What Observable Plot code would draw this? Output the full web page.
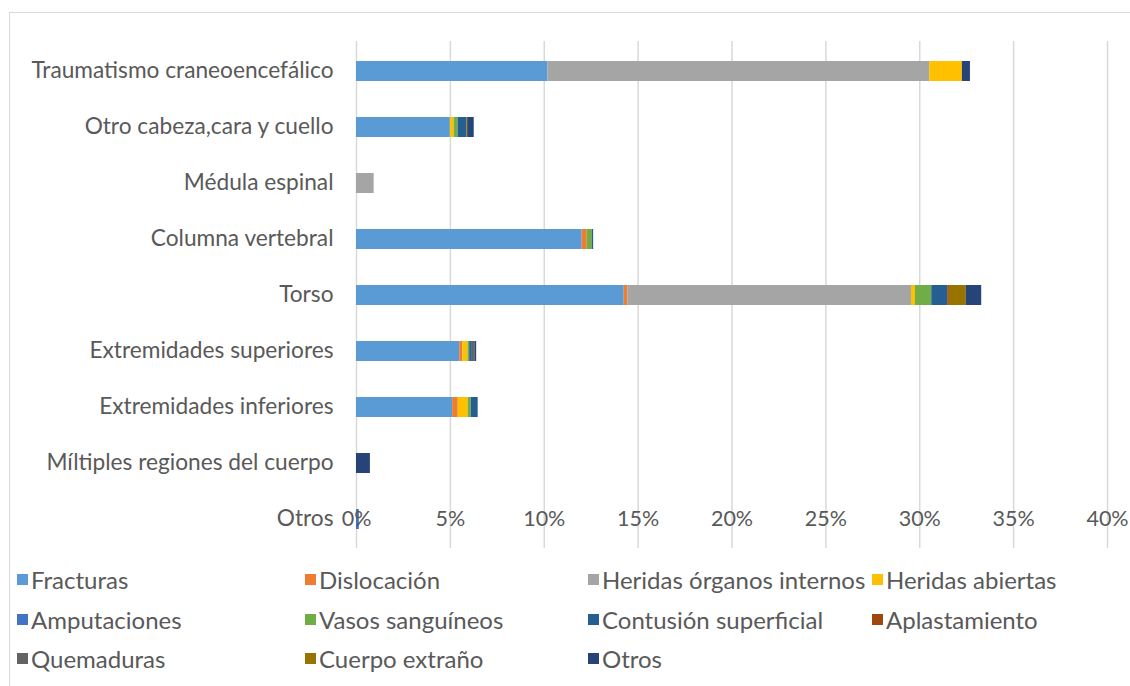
<!DOCTYPE html>
<html>
<head>
<meta charset="utf-8">
<script src="https://cdn.jsdelivr.net/npm/d3@7"></script>
<script src="https://cdn.jsdelivr.net/npm/@observablehq/plot@0.6"></script>
<style>
  html, body { margin: 0; padding: 0; background: #fff; overflow: hidden; }
  body { width: 1130px; height: 686px; position: relative; font-family: Lato, "Open Sans", sans-serif; }
  #frame { position: absolute; left: 9px; top: 12px; width: 1200px; height: 800px; border: 1.5px solid #d9d9d9; box-sizing: border-box; }
  #chart { position: absolute; left: 0; top: 0; }
  #legend { position: absolute; left: 17px; top: 560px; display: grid; grid-template-columns: 288px 283px 284px 250px; grid-auto-rows: 39.5px; }
  .item { display: flex; align-items: center; font-size: 24px; color: #595959; white-space: nowrap; }
  .sw { width: 11px; height: 11px; margin-right: 3px; flex: none; }
</style>
</head>
<body>
<div id="frame"></div>
<div id="chart"></div>
<div id="legend"></div>
<script>
const categories = [
  "Traumatismo craneoencefálico",
  "Otro cabeza,cara y cuello",
  "Médula espinal",
  "Columna vertebral",
  "Torso",
  "Extremidades superiores",
  "Extremidades inferiores",
  "Míltiples regiones del cuerpo",
  "Otros"
];
const seriesNames = [
  "Fracturas", "Dislocación", "Heridas órganos internos", "Heridas abiertas",
  "Amputaciones", "Vasos sanguíneos", "Contusión superficial", "Aplastamiento",
  "Quemaduras", "Cuerpo extraño", "Otros"
];
const seriesColors = [
  "#5B9BD5", "#ED7D31", "#A5A5A5", "#FFC000",
  "#4472C4", "#70AD47", "#255E91", "#9E480E",
  "#636363", "#997300", "#264478"
];
// values in percent, one per category (top to bottom)
const fracturas      = [10.2, 5.0, 0, 12.02, 14.26, 5.5, 5.12, 0, 0];
const dislocacion    = [0, 0, 0, 0.27, 0.2, 0.16, 0.3, 0, 0];
const heridasOrganos = [20.33, 0, 0.94, 0, 15.1, 0, 0, 0, 0];
const heridasAbiertas= [1.74, 0.2, 0, 0, 0.21, 0.28, 0.53, 0, 0];
const amputaciones   = [0, 0, 0, 0, 0, 0, 0, 0, 0.15];
const vasos          = [0, 0.21, 0, 0.27, 0.87, 0.09, 0.16, 0, 0];
const contusion      = [0, 0.46, 0, 0.07, 0.85, 0.14, 0.37, 0, 0];
const aplastamiento  = [0, 0, 0, 0, 0.09, 0, 0, 0, 0];
const quemaduras     = [0, 0, 0, 0, 0, 0.16, 0, 0, 0];
const cuerpoExtrano  = [0, 0.05, 0, 0, 0.9, 0, 0, 0, 0];
const otros          = [0.43, 0.35, 0, 0, 0.82, 0.07, 0, 0.74, 0];
const xTicks = [0, 5, 10, 15, 20, 25, 30, 35, 40];

const seriesValues = [fracturas, dislocacion, heridasOrganos, heridasAbiertas, amputaciones,
  vasos, contusion, aplastamiento, quemaduras, cuerpoExtrano, otros];

const table = [];
seriesNames.forEach((s, si) => {
  categories.forEach((c, ci) => {
    table.push({category: c, series: s, value: seriesValues[si][ci]});
  });
});

const chart = Plot.plot({
  width: 1130,
  height: 560,
  marginTop: 41,
  marginBottom: 12,
  marginLeft: 356,
  marginRight: 23,
  style: {fontFamily: "Lato, 'Open Sans', sans-serif", background: "transparent"},
  x: {domain: [0, 40], axis: null},
  y: {domain: categories, paddingInner: 0.645, paddingOuter: 0.3225, axis: null},
  color: {domain: seriesNames, range: seriesColors},
  marks: [
    Plot.gridX(xTicks, {stroke: "#d9d9d9", strokeOpacity: 1, strokeWidth: 1.5}),
    Plot.barX(table, Plot.stackX({x: "value", y: "category", fill: "series", order: null})),
    Plot.axisY({anchor: "left", tickSize: 0, tickPadding: 23, fontSize: 22.7, fill: "#595959", label: null, dy: -1}),
    Plot.text(xTicks, {x: d => d, y: () => "Otros", text: d => d + "%", fontSize: 21.5, fill: "#595959"})
  ]
});
document.getElementById("chart").appendChild(chart);

const legend = document.getElementById("legend");
seriesNames.forEach((s, i) => {
  const it = document.createElement("div");
  it.className = "item";
  const sw = document.createElement("span");
  sw.className = "sw";
  sw.style.background = seriesColors[i];
  it.appendChild(sw);
  it.appendChild(document.createTextNode(s));
  legend.appendChild(it);
});
</script>
</body>
</html>
